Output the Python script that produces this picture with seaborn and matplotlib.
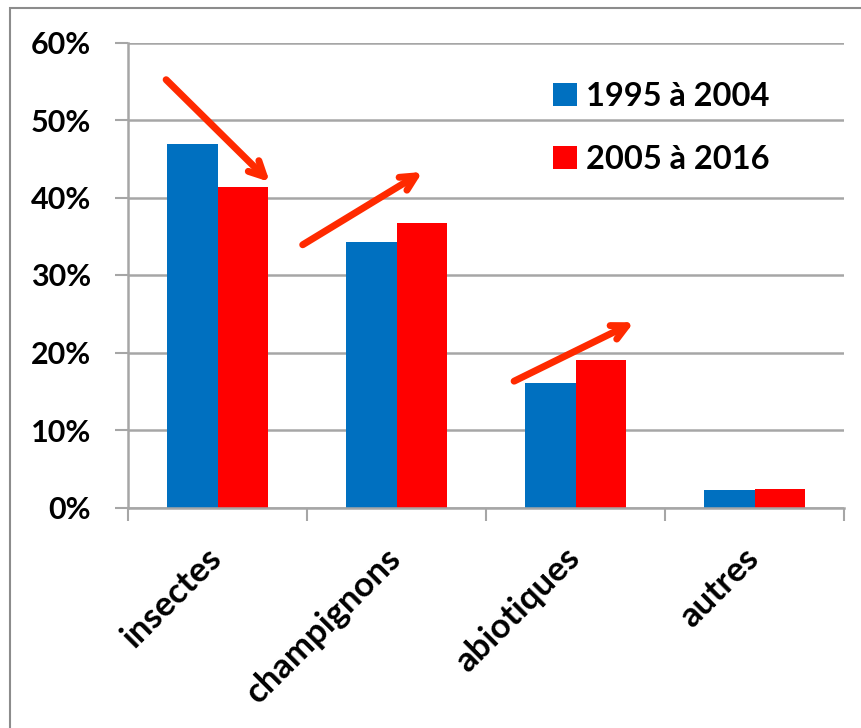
import matplotlib
matplotlib.use("Agg")
import matplotlib.pyplot as plt
import matplotlib.transforms as mtransforms
from matplotlib.patches import Rectangle, Patch
import pandas as pd
import seaborn as sns

categories = ["insectes", "champignons", "abiotiques", "autres"]
periods = ["1995 à 2004", "2005 à 2016"]
share_1995_2004 = [46.9, 34.3, 16.1, 2.2]
share_2005_2016 = [41.3, 36.7, 19.0, 2.4]
y_ticks = [0, 10, 20, 30, 40, 50, 60]
y_tick_labels = ["0%", "10%", "20%", "30%", "40%", "50%", "60%"]

colors = {"1995 à 2004": "#0070C0", "2005 à 2016": "#FF0000"}
arrow_color = "#FF2A00"

df = pd.DataFrame({
    "cause": categories * 2,
    "periode": [periods[0]] * 4 + [periods[1]] * 4,
    "part": share_1995_2004 + share_2005_2016,
})

sns.set_theme(style="white")
plt.rcParams["font.family"] = ["Lato", "DejaVu Sans"]
plt.rcParams["font.weight"] = "bold"
plt.rcParams["text.color"] = "black"
plt.rcParams["xtick.color"] = "black"
plt.rcParams["ytick.color"] = "black"

fig = plt.figure(figsize=(8.61, 7.28), dpi=100)
ax = fig.add_axes([128 / 861, 1 - 507.5 / 728, (844 - 128) / 861, (507.5 - 42.5) / 728])

sns.barplot(data=df, x="cause", y="part", hue="periode", order=categories,
            hue_order=periods, palette=colors, width=0.565, gap=0,
            saturation=1, ax=ax, legend=False, edgecolor="none")

ax.set_xlim(-0.5, 3.5)
ax.set_ylim(0, 60)
ax.set_xlabel("")
ax.set_ylabel("")

grid_color = "#A6A6A6"
ax.set_yticks(y_ticks)
ax.set_yticklabels(y_tick_labels, fontsize=22, fontweight="bold", color="black")
ax.yaxis.grid(True, color=grid_color, linewidth=1.8)
ax.set_axisbelow(True)
ax.tick_params(axis="y", length=9.5, width=1.5, color=grid_color, pad=17, left=True,
               labelcolor="black")

ax.set_xticks(range(len(categories)))
ax.set_xticklabels(categories, fontsize=25, fontweight="bold", rotation=45, color="black",
                   ha="right", va="center", rotation_mode="anchor")
ax.set_xticks([-0.5, 0.5, 1.5, 2.5, 3.5], minor=True)
ax.tick_params(axis="x", which="major", length=0, pad=33, labelcolor="black")
ax.tick_params(axis="x", which="minor", length=9.5, width=1.5, color=grid_color, bottom=True)
shift = mtransforms.ScaledTranslation(-0.6 / 72, 0, fig.dpi_scale_trans)
for lab in ax.get_xticklabels():
    lab.set_transform(lab.get_transform() + shift)

for side in ["top", "right"]:
    ax.spines[side].set_visible(False)
for side in ["left", "bottom"]:
    ax.spines[side].set_color(grid_color)
    ax.spines[side].set_linewidth(1.8)

# trend arrows between the two periods
arrows = [((-0.287, 55.2), (0.292, 42.0)),
          ((0.476, 33.9), (1.145, 43.3)),
          ((1.657, 16.3), (2.326, 23.9))]
for start, end in arrows:
    ax.annotate("", xy=end, xytext=start, xycoords="data", textcoords="data",
                arrowprops=dict(arrowstyle="->,head_length=0.9,head_width=0.45",
                                color=arrow_color, lw=5, shrinkA=0, shrinkB=0,
                                capstyle="round", joinstyle="round"))

handles = [Patch(facecolor=colors[p], edgecolor="none") for p in periods]
leg = ax.legend(handles, periods, loc="upper left", bbox_to_anchor=(0.5936, 0.916),
                frameon=False, fontsize=23.5, handlelength=0.72, handleheight=0.7,
                handletextpad=0.3, labelspacing=1.06, borderpad=0, borderaxespad=0)
for t in leg.get_texts():
    t.set_fontweight("bold")
    t.set_color("black")

# outer chart frame
fig.patches.append(Rectangle((10 / 861, -0.01), 1.0, 1 - 8 / 728 + 0.01,
                             transform=fig.transFigure, fill=False,
                             edgecolor="#8C8C8C", linewidth=1.5, zorder=0))

fig.savefig("out.png", dpi=100)
